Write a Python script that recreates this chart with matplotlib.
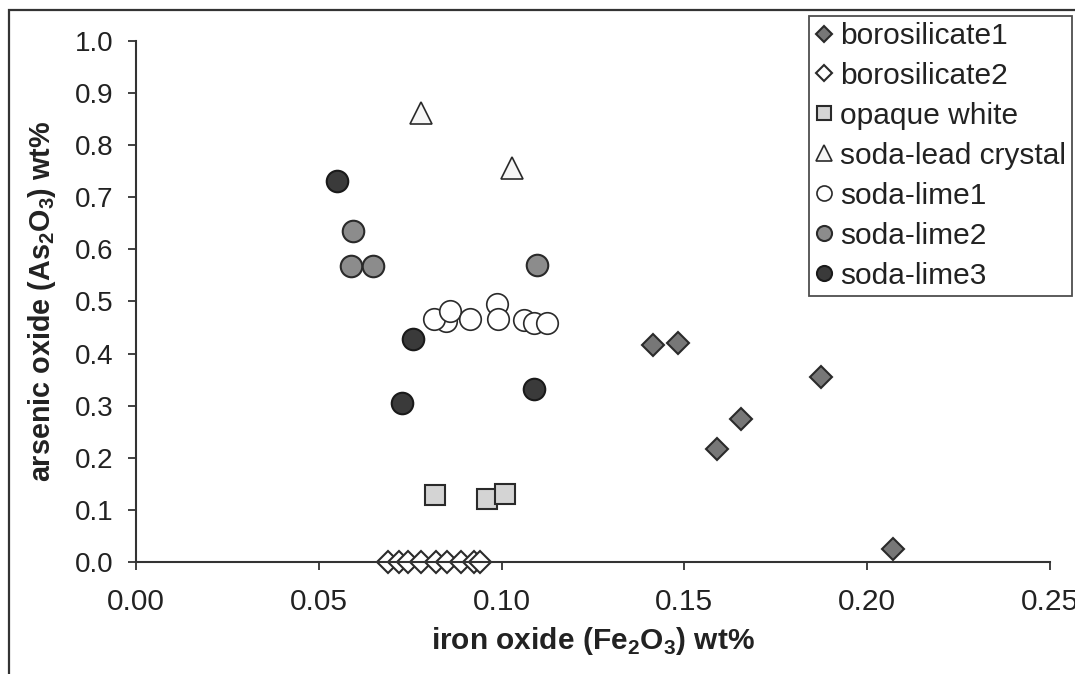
import matplotlib
matplotlib.use("Agg")
import matplotlib.pyplot as plt
from matplotlib.patches import Rectangle

plt.rcParams['font.family'] = ['Liberation Sans', 'DejaVu Sans']

# data
boro1_x = [0.1415, 0.1482, 0.1875, 0.1654, 0.1588, 0.2070]
boro1_y = [0.4165, 0.421, 0.356, 0.2745, 0.216, 0.0256]

boro2_x = [0.0690, 0.0720, 0.0745, 0.0780, 0.0820, 0.0850, 0.0890, 0.0925, 0.0940]
boro2_y = [0.0, 0.0, 0.0, 0.0, 0.0, 0.0, 0.0, 0.0, 0.0]

opaque_x = [0.0819, 0.0959, 0.1010]
opaque_y = [0.1286, 0.120, 0.130]

lead_x = [0.0780, 0.1029]
lead_y = [0.862, 0.757]

lime1_x = [0.0848, 0.0815, 0.0859, 0.0915, 0.0987, 0.0989, 0.1061, 0.1089, 0.1125]
lime1_y = [0.463, 0.466, 0.482, 0.466, 0.495, 0.466, 0.4645, 0.459, 0.458]

lime2_x = [0.0594, 0.0588, 0.0649, 0.1097]
lime2_y = [0.636, 0.568, 0.568, 0.570]

lime3_x = [0.0549, 0.0758, 0.0729, 0.1089]
lime3_y = [0.732, 0.4275, 0.306, 0.332]

xticks = [0.00, 0.05, 0.10, 0.15, 0.20, 0.25]
yticks = [0.0, 0.1, 0.2, 0.3, 0.4, 0.5, 0.6, 0.7, 0.8, 0.9, 1.0]

fig = plt.figure(figsize=(10.75, 6.74), dpi=100)
ax = fig.add_axes([0.1265, 0.1662, 0.8502, 0.773])

edge = '#2a2a2a'
ax.plot(boro1_x, boro1_y, ls='none', marker='D', ms=11.3, mfc='#777777', mec=edge, mew=1.5, label='borosilicate1', clip_on=False)
ax.plot(boro2_x, boro2_y, ls='none', marker='D', ms=11.3, mfc='white', mec=edge, mew=1.5, label='borosilicate2', clip_on=False)
ax.plot(opaque_x, opaque_y, ls='none', marker='s', ms=15, mfc='#d4d4d4', mec=edge, mew=1.5, label='opaque white', clip_on=False)
ax.plot(lead_x, lead_y, ls='none', marker='^', ms=15.5, mfc='#f6f6f6', mec=edge, mew=1.2, label='soda-lead crystal', clip_on=False)
ax.plot(lime1_x, lime1_y, ls='none', marker='o', ms=15.5, mfc='white', mec=edge, mew=1.2, label='soda-lime1', clip_on=False)
ax.plot(lime2_x, lime2_y, ls='none', marker='o', ms=15.5, mfc='#8c8c8c', mec=edge, mew=1.5, label='soda-lime2', clip_on=False)
ax.plot(lime3_x, lime3_y, ls='none', marker='o', ms=15.5, mfc='#3a3a3a', mec='#1a1a1a', mew=1.5, label='soda-lime3', clip_on=False)

ax.set_xlim(0, 0.25)
ax.set_ylim(0, 1.0)
ax.set_xticks(xticks)
ax.set_xticklabels(['%.2f' % v for v in xticks])
ax.set_yticks(yticks)
ax.set_yticklabels(['%.1f' % v for v in yticks])
ax.tick_params(direction='out', length=6, width=1.3, color='#333333', labelcolor='#222222')
ax.tick_params(axis='y', labelsize=20, pad=10)
ax.tick_params(axis='x', labelsize=21.5, pad=13)

for s in ['top', 'right']:
    ax.spines[s].set_visible(False)
for s in ['left', 'bottom']:
    ax.spines[s].set_color('#333333')
    ax.spines[s].set_linewidth(1.5)

ax.set_xlabel('iron oxide (Fe$_\\mathregular{2}$O$_\\mathregular{3}$) wt%', fontsize=21.5, fontweight='bold', color='#222222', labelpad=6)
ax.set_ylabel('arsenic oxide (As$_\\mathregular{2}$O$_\\mathregular{3}$) wt%', fontsize=20.7, fontweight='bold', color='#222222', labelpad=12)

leg = ax.legend(loc='upper right', bbox_to_anchor=(1072 / 1075, 1 - 16 / 674), bbox_transform=fig.transFigure,
                fontsize=21.5, markerscale=0.7, handlelength=0.6, handletextpad=0.25, labelspacing=0.4,
                borderpad=0.2, borderaxespad=0, fancybox=False, frameon=True)
leg.get_frame().set_edgecolor('#222222')
leg.get_frame().set_linewidth(1.3)
for t in leg.get_texts():
    t.set_color('#222222')

# outer frame around the whole picture, cut off at right and bottom
fig.patches.append(Rectangle((9 / 1075, -0.2), 1.2, 1 - 10 / 674 + 0.2, transform=fig.transFigure,
                             fill=False, edgecolor='#333333', linewidth=1.6))

fig.savefig('out.png', dpi=100)
